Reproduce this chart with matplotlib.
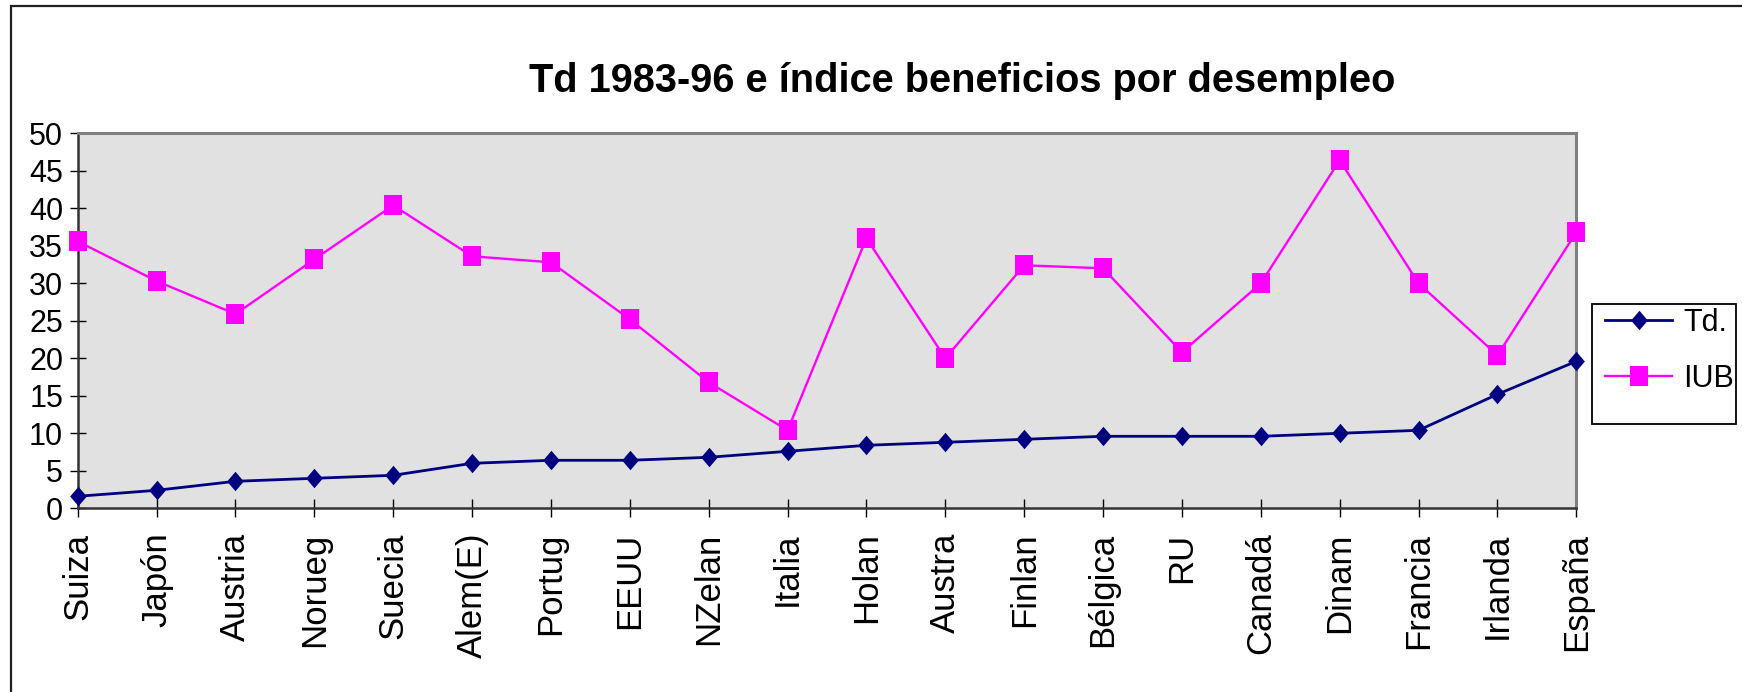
import matplotlib
matplotlib.use("Agg")
import matplotlib.pyplot as plt
from matplotlib.patches import Rectangle
from matplotlib.path import Path
from matplotlib.lines import Line2D

plt.rcParams['font.family'] = ['Liberation Sans', 'DejaVu Sans']

countries = ["Suiza", "Japón", "Austria", "Norueg", "Suecia", "Alem(E)", "Portug",
             "EEUU", "NZelan", "Italia", "Holan", "Austra", "Finlan", "Bélgica",
             "RU", "Canadá", "Dinam", "Francia", "Irlanda", "España"]
td = [1.6, 2.4, 3.6, 4.0, 4.4, 6.0, 6.4, 6.4, 6.8, 7.6, 8.4, 8.8, 9.2, 9.6,
      9.6, 9.6, 10.0, 10.4, 15.2, 19.6]
iub = [35.6, 30.3, 25.9, 33.2, 40.4, 33.6, 32.8, 25.2, 16.8, 10.4, 36.0, 20.0,
       32.4, 32.0, 20.8, 30.0, 46.4, 30.0, 20.4, 36.8]
yticks = [0, 5, 10, 15, 20, 25, 30, 35, 40, 45, 50]
title = "Td 1983-96 e índice beneficios por desempleo"

W, H = 1742, 692
fig = plt.figure(figsize=(W / 100, H / 100), dpi=100)
fig.patch.set_facecolor('white')

# outer chart-area border (cropped at right/bottom)
fig.add_artist(Rectangle((10.5 / W, -0.2), 1.5, 1.2 - 6 / H, transform=fig.transFigure,
                         fill=False, edgecolor='#202020', linewidth=1.6))

L, R, T, B = 77.7, 1576.3, 133.3, 508.3
ax = fig.add_axes([L / W, 1 - B / H, (R - L) / W, (B - T) / H])
ax.set_facecolor('#e1e1e1')

x = list(range(len(countries)))
CL = [Path.MOVETO, Path.LINETO, Path.LINETO, Path.LINETO, Path.CLOSEPOLY]
diamond = Path([(0, 1), (0.86, 0), (0, -1), (-0.86, 0), (0, 1)], CL)
square = Path([(-0.85, -1), (0.85, -1), (0.85, 1), (-0.85, 1), (-0.85, -1)], CL)

ax.plot(x, iub, color='#ff00ff', linewidth=1.7, marker=square, markersize=14.6,
        markeredgewidth=0, label='IUB', zorder=3, clip_on=False)
ax.plot(x, td, color='#000080', linewidth=2.0, marker=diamond, markersize=14.0,
        markeredgewidth=0, label='Td.', zorder=4, clip_on=False)

ax.set_xlim(0, len(countries) - 1)
ax.set_ylim(0, 50)
ax.set_yticks(yticks)
ax.set_yticklabels([str(v) for v in yticks], fontsize=22)
ax.set_xticks(x)
ax.set_xticklabels(countries, rotation=90, fontsize=25)
ax.tick_params(axis='y', direction='inout', length=11, width=1, pad=5, colors='black')
ax.tick_params(axis='x', direction='inout', length=13, width=1, pad=11, colors='black')
for s in ['left', 'bottom']:
    ax.spines[s].set_color('#333333')
    ax.spines[s].set_linewidth(1.8)
for s in ['top', 'right']:
    ax.spines[s].set_color('#808080')
    ax.spines[s].set_linewidth(2.2)

fig.text(962 / W, 1 - 92 / H, title, ha='center', va='baseline',
         fontsize=28.6, fontweight='bold')

# legend frame
fig.add_artist(Rectangle((1592 / W, 1 - 424 / H), (1736 - 1592) / W, (424 - 304) / H,
                         transform=fig.transFigure, fill=False, edgecolor='black',
                         linewidth=1.3))
h_td = Line2D([], [], color='#000080', linewidth=2.0, marker=diamond, markersize=14.0,
              markeredgewidth=0)
h_iub = Line2D([], [], color='#ff00ff', linewidth=1.7, marker=square, markersize=14.6,
               markeredgewidth=0)
fig.legend([h_td, h_iub], ['Td.', 'IUB'], loc='upper left',
           bbox_to_anchor=(1605 / W, 1 - 308 / H), frameon=False, fontsize=22,
           handlelength=2.2, handletextpad=0.35, labelspacing=0.85, borderpad=0,
           borderaxespad=0)

fig.savefig('out.png', dpi=100)
